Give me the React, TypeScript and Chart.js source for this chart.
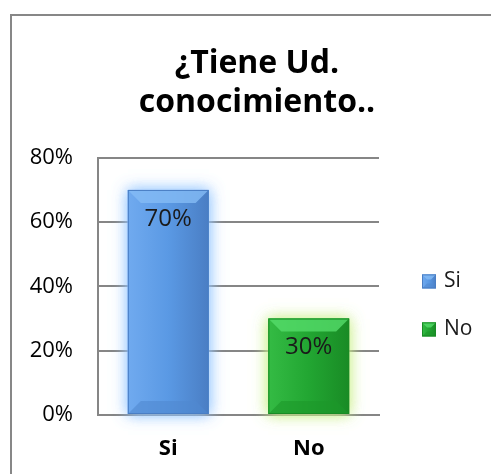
import React, { useEffect, useRef } from "react";
import { Chart, registerables } from "chart.js";

Chart.register(...registerables);

const categories = ["Si", "No"];
const values = [70, 30];
const yTickValues = [0, 20, 40, 60, 80];
const titleLines = ["¿Tiene Ud.", "conocimiento.."];
const barBase = ["#5a99e4", "#22a632"];
const barLight = ["#70aaef", "#34bb44"];
const barDark = ["#4a7ec4", "#198b25"];
const barTop = ["#85bcf5", "#55dc6a"];
const barBottom = ["#5089d0", "#1d972a"];
const glowColors = ["rgba(150,200,255,0.9)", "rgba(205,240,140,0.9)"];

const FONT = "'Open Sans', 'DejaVu Sans', sans-serif";

function bevelRect(ctx: CanvasRenderingContext2D, l: number, t: number, r: number, b: number, i: number, bev: number) {
  const w = r - l;
  const g = ctx.createLinearGradient(l, 0, r, 0);
  g.addColorStop(0, barLight[i]);
  g.addColorStop(0.5, barBase[i]);
  g.addColorStop(1, barDark[i]);
  ctx.fillStyle = g;
  ctx.fillRect(l, t, w, b - t);
  const bv = Math.min(bev, w / 2, (b - t) / 2);
  ctx.fillStyle = barTop[i];
  ctx.globalAlpha = 0.8;
  ctx.beginPath();
  ctx.moveTo(l, t);
  ctx.lineTo(r, t);
  ctx.lineTo(r - bv, t + bv);
  ctx.lineTo(l + bv, t + bv);
  ctx.closePath();
  ctx.fill();
  ctx.fillStyle = barBottom[i];
  ctx.globalAlpha = 0.6;
  ctx.beginPath();
  ctx.moveTo(l, b);
  ctx.lineTo(r, b);
  ctx.lineTo(r - bv, b - bv);
  ctx.lineTo(l + bv, b - bv);
  ctx.closePath();
  ctx.fill();
  ctx.globalAlpha = 1;
  ctx.strokeStyle = barDark[i];
  ctx.lineWidth = 1;
  ctx.strokeRect(l + 0.5, t + 0.5, w - 1, b - t - 1);
}

const decorPlugin = {
  id: "decor",
  beforeDraw(chart: any) {
    const ctx = chart.ctx;
    ctx.save();
    ctx.fillStyle = "#ffffff";
    ctx.fillRect(0, 0, chart.width, chart.height);
    ctx.strokeStyle = "#878787";
    ctx.lineWidth = 2;
    ctx.strokeRect(11, 15, chart.width + 50, chart.height + 50);
    ctx.restore();
  },
  beforeDatasetsDraw(chart: any) {
    const ctx = chart.ctx;
    const meta = chart.getDatasetMeta(0);
    ctx.save();
    meta.data.forEach((el: any, i: number) => {
      const l = el.x - el.width / 2;
      const t = Math.min(el.y, el.base);
      const h = Math.abs(el.base - el.y);
      ctx.shadowColor = glowColors[i];
      ctx.shadowBlur = 14;
      ctx.fillStyle = glowColors[i];
      ctx.fillRect(l, t, el.width, h);
      ctx.fillRect(l, t, el.width, h);
    });
    ctx.restore();
  },
  afterDatasetsDraw(chart: any) {
    const ctx = chart.ctx;
    const meta = chart.getDatasetMeta(0);
    ctx.save();
    meta.data.forEach((el: any, i: number) => {
      const l = el.x - el.width / 2;
      const r = el.x + el.width / 2;
      bevelRect(ctx, l, el.y, r, el.base, i, 13);
      ctx.fillStyle = "#1a1a1a";
      ctx.font = `24px ${FONT}`;
      ctx.textAlign = "center";
      ctx.textBaseline = "middle";
      ctx.fillText(values[i] + "%", el.x, el.y + 29);
    });
    ctx.restore();
  },
  afterDraw(chart: any) {
    const ctx = chart.ctx;
    const area = chart.chartArea;
    ctx.save();
    const x0 = area.right + 43;
    const cy = (area.top + area.bottom) / 2 + 19;
    const gap = 48;
    categories.forEach((c, i) => {
      const yc = cy + (i - (categories.length - 1) / 2) * gap;
      bevelRect(ctx, x0, yc - 7, x0 + 14, yc + 7, i, 5);
      ctx.fillStyle = "#1a1a1a";
      ctx.font = `21px ${FONT}`;
      ctx.textAlign = "left";
      ctx.textBaseline = "middle";
      ctx.fillText(c, x0 + 22, yc);
    });
    ctx.restore();
  },
};

export default function App() {
  const ref = useRef<HTMLCanvasElement | null>(null);
  useEffect(() => {
    if (!ref.current) return;
    const chart = new Chart(ref.current, {
      type: "bar",
      data: {
        labels: categories,
        datasets: [
          {
            label: "Respuestas",
            data: values,
            backgroundColor: barBase,
            borderWidth: 0,
            barPercentage: 0.575,
            categoryPercentage: 1,
          },
        ],
      },
      options: {
        animation: false,
        responsive: false,
        devicePixelRatio: 1,
        layout: { padding: { left: 23, right: 0, top: 0, bottom: 0 } },
        plugins: {
          legend: { display: false },
          tooltip: { enabled: false },
          title: {
            display: true,
            text: titleLines,
            color: "#000000",
            font: { family: FONT, size: 32, weight: "bold", lineHeight: 1.2 },
            padding: { top: 45, bottom: 36 },
          },
        },
        scales: {
          x: {
            grid: { display: false, drawTicks: false },
            border: { display: true, color: "#868686", width: 2 },
            ticks: {
              color: "#000000",
              font: { family: FONT, size: 22, weight: "bold" },
              padding: 21,
            },
            afterFit: (s: any) => {
              s.height = 59;
            },
          },
          y: {
            min: 0,
            max: 80,
            afterBuildTicks: (s: any) => {
              s.ticks = yTickValues.map((v) => ({ value: v }));
            },
            grid: { color: "#868686", lineWidth: 2, drawTicks: false },
            border: { display: true, color: "#868686", width: 2 },
            ticks: {
              color: "#000000",
              font: { family: FONT, size: 22 },
              padding: 25,
              callback: (v: any) => v + "%",
            },
            afterFit: (s: any) => {
              s.width = 75;
            },
          },
          legendSpace: {
            type: "linear",
            position: "right",
            display: true,
            grid: { display: false, drawTicks: false },
            border: { display: false },
            ticks: { display: false },
            afterFit: (s: any) => {
              s.width = 112;
            },
          },
        },
      },
      plugins: [decorPlugin],
    } as any);
    return () => chart.destroy();
  }, []);
  return (
    <div style={{ position: "fixed", left: 0, top: 0, width: 491, height: 474 }}>
      <canvas ref={ref} width={491} height={474} style={{ display: "block" }} />
    </div>
  );
}
